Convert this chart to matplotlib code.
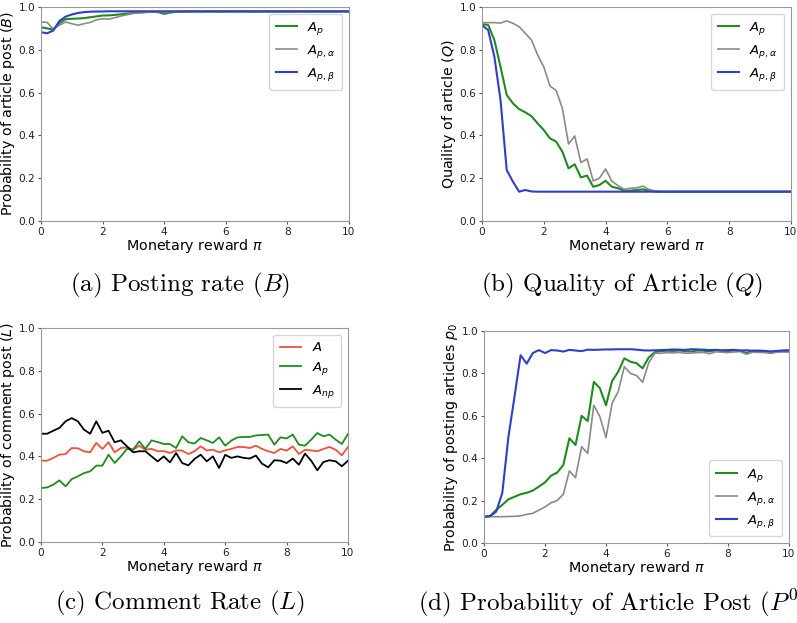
import numpy as np
import matplotlib
matplotlib.use("Agg")
import matplotlib.pyplot as plt

# monetary reward grid
x = np.linspace(0, 10, 51)

# (a) posting rate B
a_Ap = [0.905, 0.900, 0.895, 0.925, 0.943, 0.945, 0.946, 0.948, 0.952, 0.956,
        0.960, 0.961, 0.963, 0.966, 0.969, 0.972, 0.974, 0.976, 0.977, 0.976,
        0.968, 0.974, 0.977, 0.978, 0.978, 0.979, 0.978, 0.979, 0.979, 0.978,
        0.979, 0.978, 0.979, 0.979, 0.978, 0.978, 0.979, 0.978, 0.978, 0.979,
        0.978, 0.978, 0.979, 0.978, 0.978, 0.979, 0.978, 0.978, 0.978, 0.979,
        0.978]
a_Apa = [0.930, 0.928, 0.897, 0.915, 0.930, 0.922, 0.915, 0.922, 0.928, 0.940,
         0.945, 0.943, 0.950, 0.958, 0.964, 0.970, 0.973, 0.975, 0.977, 0.977,
         0.977, 0.978, 0.977, 0.978, 0.979, 0.978, 0.978, 0.979, 0.978, 0.978,
         0.979, 0.978, 0.978, 0.979, 0.978, 0.978, 0.978, 0.979, 0.978, 0.978,
         0.979, 0.978, 0.978, 0.978, 0.979, 0.978, 0.978, 0.978, 0.979, 0.978,
         0.978]
a_Apb = [0.882, 0.877, 0.890, 0.935, 0.955, 0.965, 0.972, 0.976, 0.978, 0.979,
         0.979, 0.980, 0.980, 0.980, 0.980, 0.980, 0.980, 0.980, 0.980, 0.980,
         0.980, 0.980, 0.980, 0.980, 0.980, 0.980, 0.980, 0.980, 0.980, 0.980,
         0.980, 0.980, 0.980, 0.980, 0.980, 0.980, 0.980, 0.980, 0.980, 0.980,
         0.980, 0.980, 0.980, 0.980, 0.980, 0.980, 0.980, 0.980, 0.980, 0.980,
         0.980]

# (b) quality of article Q
b_Ap = [0.920, 0.916, 0.846, 0.720, 0.589, 0.550, 0.523, 0.508, 0.490, 0.456,
        0.425, 0.386, 0.371, 0.324, 0.246, 0.265, 0.204, 0.212, 0.160, 0.168,
        0.188, 0.160, 0.153, 0.142, 0.142, 0.145, 0.148, 0.142, 0.138, 0.137,
        0.137, 0.137, 0.137, 0.137, 0.137, 0.137, 0.137, 0.137, 0.137, 0.137,
        0.137, 0.137, 0.137, 0.137, 0.137, 0.137, 0.137, 0.137, 0.137, 0.137,
        0.137]
b_Apa = [0.927, 0.927, 0.927, 0.925, 0.935, 0.924, 0.908, 0.877, 0.846, 0.776,
         0.720, 0.630, 0.610, 0.527, 0.360, 0.397, 0.273, 0.290, 0.187, 0.200,
         0.243, 0.187, 0.165, 0.148, 0.153, 0.155, 0.163, 0.148, 0.140, 0.138,
         0.138, 0.138, 0.138, 0.138, 0.138, 0.138, 0.138, 0.138, 0.138, 0.138,
         0.138, 0.138, 0.138, 0.138, 0.138, 0.138, 0.138, 0.138, 0.138, 0.138,
         0.138]
b_Apb = [0.915, 0.892, 0.768, 0.565, 0.238, 0.184, 0.137, 0.145, 0.138, 0.137,
         0.137, 0.137, 0.137, 0.137, 0.137, 0.137, 0.137, 0.137, 0.137, 0.137,
         0.137, 0.137, 0.137, 0.137, 0.137, 0.137, 0.137, 0.137, 0.137, 0.137,
         0.137, 0.137, 0.137, 0.137, 0.137, 0.137, 0.137, 0.137, 0.137, 0.137,
         0.137, 0.137, 0.137, 0.137, 0.137, 0.137, 0.137, 0.137, 0.137, 0.137,
         0.137]

# (c) comment rate L
c_A = [0.380, 0.380, 0.393, 0.408, 0.411, 0.439, 0.438, 0.424, 0.419, 0.463,
       0.435, 0.466, 0.419, 0.439, 0.442, 0.431, 0.450, 0.431, 0.435, 0.424,
       0.425, 0.416, 0.428, 0.427, 0.411, 0.424, 0.447, 0.428, 0.431, 0.419,
       0.428, 0.435, 0.444, 0.444, 0.439, 0.450, 0.435, 0.424, 0.416, 0.435,
       0.427, 0.447, 0.411, 0.431, 0.428, 0.424, 0.435, 0.444, 0.431, 0.405,
       0.444]
c_Ap = [0.252, 0.255, 0.268, 0.288, 0.260, 0.294, 0.307, 0.322, 0.330, 0.357,
        0.357, 0.408, 0.369, 0.400, 0.435, 0.431, 0.470, 0.435, 0.475, 0.467,
        0.458, 0.458, 0.439, 0.494, 0.466, 0.460, 0.486, 0.475, 0.463, 0.489,
        0.450, 0.474, 0.489, 0.491, 0.491, 0.498, 0.500, 0.502, 0.455, 0.489,
        0.484, 0.502, 0.455, 0.450, 0.478, 0.509, 0.494, 0.502, 0.478, 0.458,
        0.505]
c_Anp = [0.506, 0.506, 0.520, 0.533, 0.564, 0.579, 0.564, 0.525, 0.506, 0.564,
         0.510, 0.520, 0.466, 0.475, 0.447, 0.419, 0.424, 0.424, 0.400, 0.377,
         0.400, 0.372, 0.416, 0.369, 0.358, 0.388, 0.408, 0.377, 0.400, 0.346,
         0.407, 0.393, 0.400, 0.393, 0.390, 0.404, 0.366, 0.349, 0.382, 0.380,
         0.369, 0.390, 0.361, 0.413, 0.380, 0.335, 0.374, 0.382, 0.377, 0.354,
         0.380]

# (d) probability of posting articles p0
d_Ap = [0.124, 0.127, 0.156, 0.180, 0.206, 0.218, 0.230, 0.237, 0.247, 0.266,
        0.286, 0.318, 0.332, 0.368, 0.494, 0.462, 0.600, 0.575, 0.760, 0.730,
        0.650, 0.764, 0.808, 0.871, 0.855, 0.848, 0.824, 0.875, 0.900, 0.905,
        0.907, 0.906, 0.908, 0.905, 0.903, 0.908, 0.907, 0.904, 0.909, 0.906,
        0.905, 0.908, 0.907, 0.896, 0.906, 0.905, 0.904, 0.897, 0.905, 0.906,
        0.907]
d_Apa = [0.124, 0.124, 0.124, 0.124, 0.125, 0.126, 0.128, 0.135, 0.140, 0.155,
         0.170, 0.190, 0.200, 0.230, 0.340, 0.308, 0.454, 0.423, 0.650, 0.596,
         0.497, 0.659, 0.714, 0.832, 0.800, 0.790, 0.758, 0.850, 0.895, 0.895,
         0.898, 0.897, 0.899, 0.895, 0.896, 0.898, 0.899, 0.893, 0.902, 0.900,
         0.898, 0.901, 0.903, 0.890, 0.900, 0.899, 0.898, 0.895, 0.900, 0.901,
         0.900]
d_Apb = [0.124, 0.127, 0.148, 0.236, 0.500, 0.690, 0.886, 0.846, 0.896, 0.910,
         0.896, 0.910, 0.908, 0.903, 0.911, 0.908, 0.905, 0.912, 0.911, 0.912,
         0.913, 0.913, 0.914, 0.914, 0.914, 0.912, 0.909, 0.908, 0.909, 0.910,
         0.911, 0.913, 0.912, 0.911, 0.914, 0.913, 0.912, 0.910, 0.911, 0.909,
         0.910, 0.911, 0.908, 0.909, 0.907, 0.908, 0.906, 0.904, 0.906, 0.908,
         0.909]

GREEN = "#1e8c1e"
GRAY = "#8a8a8a"
BLUE = "#2f3fc8"
RED = "#f0503c"

fig = plt.figure(figsize=(7.97, 6.23), dpi=100)
W, H = 797, 623


def make_ax(l, r, t, b):
    return fig.add_axes([l / W, 1 - b / H, (r - l) / W, (b - t) / H])


def style(ax, ylabel, legend_loc):
    ax.set_xlim(0, 10)
    ax.set_ylim(0, 1)
    ax.set_xticks([0, 2, 4, 6, 8, 10])
    ax.set_yticks([0.0, 0.2, 0.4, 0.6, 0.8, 1.0])
    ax.tick_params(labelsize=7.6, length=2.5, pad=1.5, color="#555555",
                   labelcolor="#222222")
    for s in ax.spines.values():
        s.set_color("#999999")
    ax.set_xlabel(r"Monetary reward $\pi$", fontsize=10.3, labelpad=0)
    ax.set_ylabel(ylabel, fontsize=10.3, labelpad=1)
    ax.legend(loc=legend_loc, fontsize=9.5, handlelength=1.6, borderpad=0.5,
              labelspacing=0.45, handletextpad=0.8)


ax1 = make_ax(41, 349, 7, 221)
ax1.plot(x, a_Ap, color=GREEN, lw=1.5, label=r"$A_p$")
ax1.plot(x, a_Apa, color=GRAY, lw=1.2, label=r"$A_{p,\alpha}$")
ax1.plot(x, a_Apb, color=BLUE, lw=1.5, label=r"$A_{p,\beta}$")
style(ax1, r"Probability of article post ($B$)", "upper right")

ax2 = make_ax(482, 791, 7, 221)
ax2.plot(x, b_Ap, color=GREEN, lw=1.5, label=r"$A_p$")
ax2.plot(x, b_Apa, color=GRAY, lw=1.2, label=r"$A_{p,\alpha}$")
ax2.plot(x, b_Apb, color=BLUE, lw=1.5, label=r"$A_{p,\beta}$")
style(ax2, r"Quaility of article ($Q$)", "upper right")

ax3 = make_ax(41, 348, 328, 542)
ax3.plot(x, c_A, color=RED, lw=1.3, label=r"$A$")
ax3.plot(x, c_Ap, color=GREEN, lw=1.3, label=r"$A_p$")
ax3.plot(x, c_Anp, color="black", lw=1.3, label=r"$A_{np}$")
style(ax3, r"Probability of comment post ($L$)", "upper right")

ax4 = make_ax(484, 789, 331, 543)
ax4.plot(x, d_Ap, color=GREEN, lw=1.5, label=r"$A_p$")
ax4.plot(x, d_Apa, color=GRAY, lw=1.2, label=r"$A_{p,\alpha}$")
ax4.plot(x, d_Apb, color=BLUE, lw=1.5, label=r"$A_{p,\beta}$")
style(ax4, r"Probability of posting articles $p_0$", "lower right")

cap = dict(fontsize=18, family="cmr10", math_fontfamily="cm", va="center")
fig.text(180 / W, 1 - 285 / H, r"(a) Posting rate ($B$)", ha="center", **cap)
fig.text(622 / W, 1 - 285 / H, r"(b) Quality of Article ($Q$)", ha="center", **cap)
fig.text(180 / W, 1 - 603 / H, r"(c) Comment Rate ($L$)", ha="center", **cap)
fig.text(418 / W, 1 - 603 / H, r"(d) Probability of Article Post ($P^0$)",
         ha="left", **cap)

fig.savefig("out.png", dpi=100)
